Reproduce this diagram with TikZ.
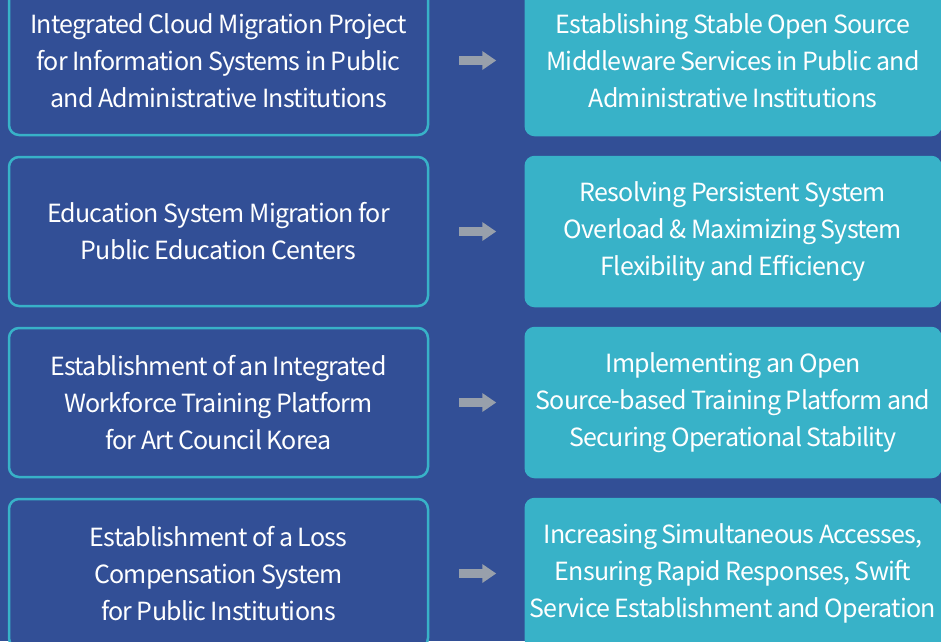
\documentclass[tikz,border=0pt]{standalone}
\usepackage{fontspec}
\setmainfont[LetterSpace=-3]{Noto Sans CJK KR}
\usetikzlibrary{arrows.meta,positioning}
\definecolor{bgblue}{HTML}{324F96}
\definecolor{boxteal}{HTML}{38B2C8}
\definecolor{arrowgray}{HTML}{98A0AB}
\newcommand{\boxfont}{\fontsize{25}{37}\selectfont\spaceskip=4.5pt\xspaceskip=4.5pt}

\begin{document}
\begin{tikzpicture}[
    x=1pt, y=-1pt,
    node distance=19.5pt and 94pt,
    project/.style={draw=boxteal, line width=2.5pt, rounded corners=10pt, fill=bgblue, text=white, minimum width=419pt, minimum height=149pt, inner xsep=0pt, text width=417pt, align=flush center, font=\boxfont},
    result/.style={project, draw=none, fill=boxteal, minimum width=417pt, text width=415pt, minimum height=151.5pt},
    link/.style={line width=9pt, draw=arrowgray, -{Triangle[length=14pt,width=18pt]}, shorten <=30pt, shorten >=27pt}
]
    \fill[bgblue] (0,0) rectangle (941,641);
    \useasboundingbox (0,0) rectangle (941,641);

    \node[project] (cloud) at (218.5,60.5) {Integrated Cloud Migration Project\\for Information Systems in Public\\and Administrative Institutions};
    \node[project, below=of cloud] (edu) {Education System Migration for\\Public Education Centers};
    \node[project, below=of edu] (arts) {Establishment of an Integrated\\Workforce Training Platform\\for Art Council Korea};
    \node[project, below=of arts] (loss) {Establishment of a Loss\\Compensation System\\for Public Institutions};

    \node[result, right=of cloud] (middle) {Establishing Stable Open Source\\Middleware Services in Public and\\Administrative Institutions};
    \node[result, right=of edu] (overload) {Resolving Persistent System\\Overload \& Maximizing System\\Flexibility and Efficiency};
    \node[result, right=of arts] (train) {Implementing an Open\\Source-based Training Platform and\\Securing Operational Stability};
    \node[result, right=of loss] (access) {Increasing Simultaneous Accesses,\\Ensuring Rapid Responses, Swift\\Service Establishment and Operation};

    \draw[link] (cloud) -- (middle);
    \draw[link] (edu) -- (overload);
    \draw[link] (arts) -- (train);
    \draw[link] (loss) -- (access);
\end{tikzpicture}
\end{document}
